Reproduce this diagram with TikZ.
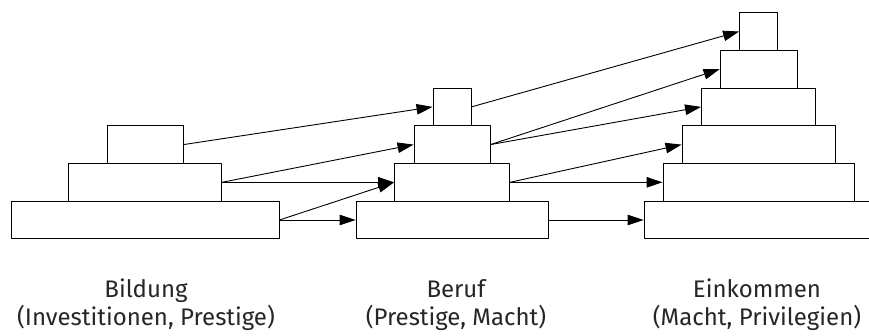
\documentclass[tikz,border=0pt]{standalone}
\usepackage{fontspec}
\setmainfont{Fira Sans}
\usetikzlibrary{arrows.meta}

\begin{document}
\begin{tikzpicture}[x=1pt, y=1pt, line join=bevel,
        stepbox/.style={shape=rectangle, draw=black, line width=0.9pt, inner sep=0pt, minimum height=37.7pt},
        flowarrow/.style={-{Triangle[length=16pt, width=10.5pt]}, line width=0.9pt},
        caption/.style={align=center, font=\fontsize{24}{28}\selectfont, text=black!85}]
        \clip (0, 0) rectangle (869, 335);
        % Bildung
        \foreach \i/\w in {1/268, 2/153, 3/76} {
          \node[stepbox, minimum width=\w pt] (bild\i) at (145, 77.3 + 37.7*\i) {};
        }
        % Beruf
        \foreach \i/\w in {1/192, 2/115, 3/76, 4/38} {
          \node[stepbox, minimum width=\w pt] (beruf\i) at (452, 77.3 + 37.7*\i) {};
        }
        % Einkommen
        \foreach \i/\w in {1/229, 2/191, 3/153, 4/114, 5/77, 6/38} {
          \node[stepbox, minimum width=\w pt] (eink\i) at (758.5, 77.3 + 37.7*\i) {};
        }
        % Arrows
        \foreach \a/\b in {bild3/beruf4, bild2/beruf3, bild2/beruf2, bild1/beruf2, bild1/beruf1,
                           beruf4/eink6, beruf3/eink5, beruf3/eink4, beruf2/eink3, beruf2/eink2, beruf1/eink1} {
          \draw[flowarrow] (\a.east) -- (\b.west);
        }
        % Captions
        \node[caption] (capbild) at (146, 30) {Bildung\\(Investitionen, Prestige)};
        \node[caption] (capberuf) at (456, 30) {Beruf\\(Prestige, Macht)};
        \node[caption] (capeink) at (757, 30) {Einkommen\\(Macht, Privilegien)};
\end{tikzpicture}
\end{document}
